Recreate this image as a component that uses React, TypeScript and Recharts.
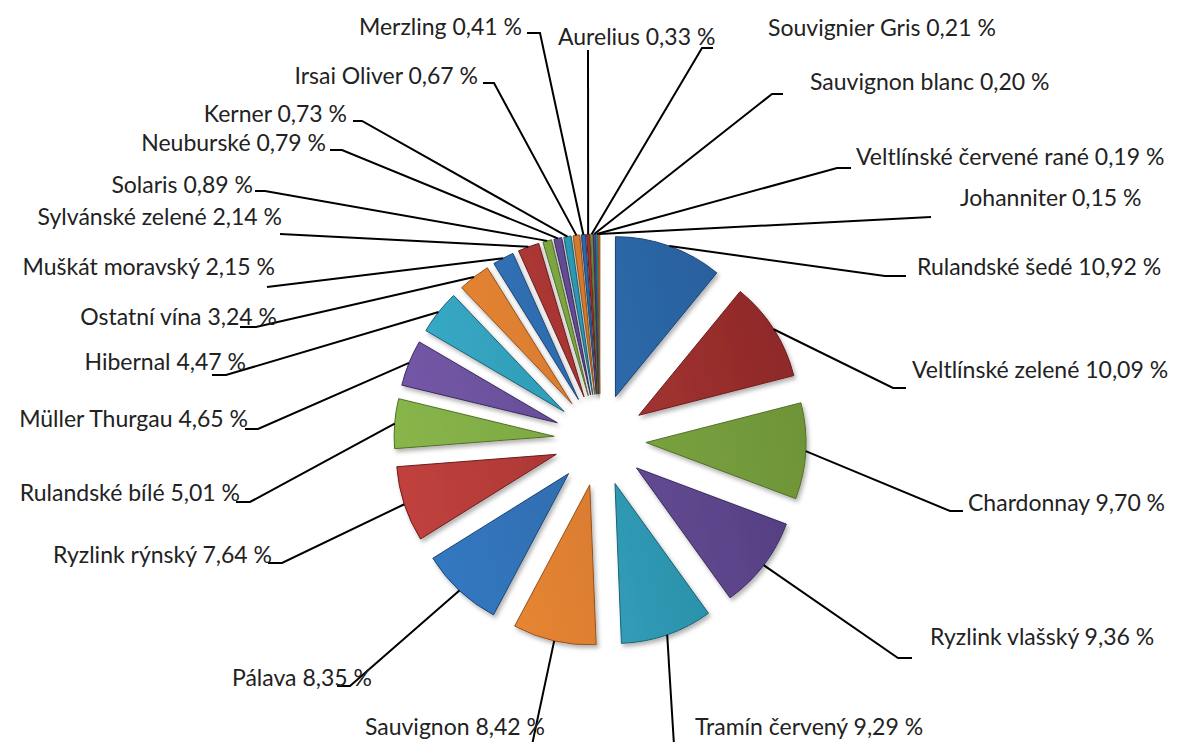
import React from 'react';
import { PieChart, Pie, Cell, Sector, Tooltip } from 'recharts';

// Podíl odrůd na celkové produkci (%)
const odrudy = [
  'Rulandské šedé',
  'Veltlínské zelené',
  'Chardonnay',
  'Ryzlink vlašský',
  'Tramín červený',
  'Sauvignon',
  'Pálava',
  'Ryzlink rýnský',
  'Rulandské bílé',
  'Müller Thurgau',
  'Hibernal',
  'Ostatní vína',
  'Muškát moravský',
  'Sylvánské zelené',
  'Solaris',
  'Neuburské',
  'Kerner',
  'Irsai Oliver',
  'Merzling',
  'Aurelius',
  'Souvignier Gris',
  'Sauvignon blanc',
  'Veltlínské červené rané',
  'Johanniter',
];

const podily = [
  10.92, 10.09, 9.7, 9.36, 9.29, 8.42, 8.35, 7.64, 5.01, 4.65, 4.47, 3.24,
  2.15, 2.14, 0.89, 0.79, 0.73, 0.67, 0.41, 0.33, 0.21, 0.2, 0.19, 0.15,
];

// tmavší odstín vpravo, světlejší vlevo (osvětlení jako v Excelu)
const tmave = ['#275A93', '#8A2727', '#6C9136', '#503B7C', '#237F96', '#BD6926'];
const svetle = ['#3479C2', '#C0413D', '#88B64A', '#7659A9', '#3AAFCC', '#EF8B36'];
const obrysy = ['#1D4676', '#6E1C1B', '#52702A', '#3B2A5E', '#196274', '#96521C'];

// umístění popisků: [x, y, zarovnání, zlom x, zlom y, konec x | null]
type Popisek = [number, number, 'start' | 'end', number, number, number | null];
const popisky: Popisek[] = [
  [917, 266, 'start', 885, 276, 906],
  [912, 369, 'start', 893, 388, 906],
  [968, 502, 'start', 950, 511, 963],
  [930, 636, 'start', 898, 658, 912],
  [695, 726, 'start', 674, 745, null],
  [545, 726, 'end', 532, 745, null],
  [372, 677, 'end', 350, 686, 337],
  [272, 554, 'end', 282, 563, 268],
  [240, 492, 'end', 250, 502, 236],
  [248, 418, 'end', 258, 429, 245],
  [246, 361, 'end', 226, 375, 212],
  [277, 316, 'end', 256, 327, 240],
  [275, 266, 'end', 267, 287, null],
  [282, 216, 'end', 280, 234, null],
  [253, 184, 'end', 265, 191, 255],
  [326, 142, 'end', 342, 150, 330],
  [347, 113, 'end', 362, 121, 353],
  [478, 75, 'end', 494, 83, 483],
  [522, 26, 'end', 540, 33, 527],
  [558, 36, 'start', 588, 50, null],
  [768, 27, 'start', 702, 48, 713],
  [810, 81, 'start', 772, 94, 783],
  [856, 156, 'start', 837, 168, 851],
  [960, 197, 'start', 931, 217, null],
];

const data = odrudy.map((nazev, i) => ({ nazev, podil: podily[i] }));

const ODSAZENI = 46;
const RAD = Math.PI / 180;

function formatProcent(v: number) {
  return v.toFixed(2).replace('.', ',') + ' %';
}

function VysunutaVysec(props: any) {
  const { cx, cy, midAngle } = props;
  const dx = ODSAZENI * Math.cos(-midAngle * RAD);
  const dy = ODSAZENI * Math.sin(-midAngle * RAD);
  return <Sector {...props} cx={cx + dx} cy={cy + dy} filter="url(#stin)" />;
}

function PopisekOdrudy(props: any) {
  const { cx, cy, midAngle, outerRadius, index } = props;
  const p = popisky[index];
  if (!p) return null;
  const [x, y, anchor, zx, zy, kx] = p;
  const r = outerRadius + ODSAZENI;
  const ax = cx + r * Math.cos(-midAngle * RAD);
  const ay = cy + r * Math.sin(-midAngle * RAD);
  const body = kx === null ? `${ax},${ay} ${zx},${zy}` : `${ax},${ay} ${zx},${zy} ${kx},${zy}`;
  return (
    <g>
      <polyline points={body} fill="none" stroke="#000" strokeWidth={2} />
      <text
        x={x}
        y={y}
        textAnchor={anchor}
        dominantBaseline="central"
        fill="#222"
        fontSize={23}
        fontFamily="Lato, 'Open Sans', sans-serif"
      >
        {`${odrudy[index]} ${formatProcent(podily[index])}`}
      </text>
    </g>
  );
}

export default function App() {
  return (
    <div style={{ position: 'absolute', left: 0, top: 0, width: 1177, height: 742, background: '#fff' }}>
      <PieChart width={1177} height={742} margin={{ top: 0, right: 0, bottom: 0, left: 0 }}>
        <defs>
          {tmave.map((b, i) => (
            <linearGradient
              key={b}
              id={`grad${i}`}
              gradientUnits="userSpaceOnUse"
              x1="820"
              y1="330"
              x2="390"
              y2="430"
            >
              <stop offset="0%" stopColor={b} />
              <stop offset="100%" stopColor={svetle[i]} />
            </linearGradient>
          ))}
          <filter id="stin" x="-20%" y="-20%" width="140%" height="140%">
            <feDropShadow dx="2" dy="3" stdDeviation="2" floodColor="#000" floodOpacity="0.3" />
          </filter>
        </defs>
        <Pie
          data={data}
          dataKey="podil"
          nameKey="nazev"
          cx={600}
          cy={440}
          outerRadius={160}
          startAngle={90}
          endAngle={-270}
          shape={VysunutaVysec}
          activeShape={VysunutaVysec}
          inactiveShape={VysunutaVysec}
          label={PopisekOdrudy}
          labelLine={false}
          isAnimationActive={false}
        >
          {data.map((d, i) => (
            <Cell key={d.nazev} fill={`url(#grad${i % 6})`} stroke={obrysy[i % 6]} strokeWidth={1} />
          ))}
        </Pie>
        <Tooltip defaultIndex={0} content={() => null} cursor={false} />
      </PieChart>
    </div>
  );
}
